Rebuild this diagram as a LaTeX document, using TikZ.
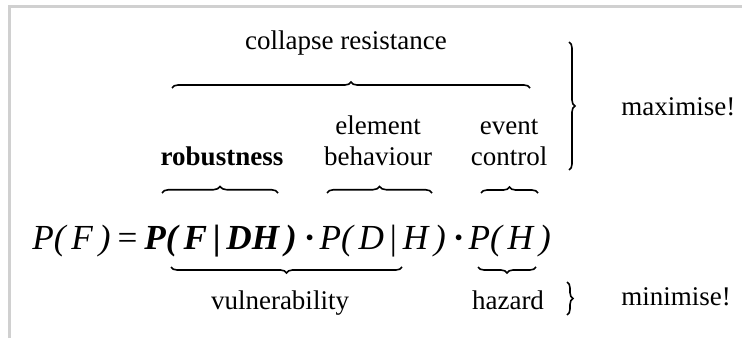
\documentclass[tikz,border=0pt]{standalone}
\usepackage{fontspec}
\setmainfont{Liberation Serif}
\usetikzlibrary{decorations.pathreplacing}
\definecolor{bordercol}{HTML}{D0D0D0}
\begin{document}
\begin{tikzpicture}[x=0.5pt,y=0.5pt,
  lbl/.style={inner sep=0pt, anchor=base, font=\fontsize{13.5}{16}\selectfont},
  formula/.style={inner sep=0pt, anchor=base west, font=\fontsize{17.6}{20}\selectfont},
  brc/.style={decorate, line width=0.8pt, decoration={brace, amplitude=#1}},
  brc/.default=3.3pt]
\useasboundingbox (0,0) rectangle (742,338);
% frame
\draw[bordercol, line width=1.5pt] (9,0) |- (742,331);
% texts
\node[lbl] (cr) at (346,288) {collapse resistance};
\node[lbl] (rob) at (222,173) {\bfseries robustness};
\node[lbl] (el1) at (378,204) {element};
\node[lbl] (el2) at (378,173) {behaviour};
\node[lbl] (ev1) at (509,204) {event};
\node[lbl] (ev2) at (509,173) {control};
\node[lbl, anchor=base west] (max) at (621,223) {maximise!};
\node[lbl] (vul) at (280,29) {vulnerability};
\node[lbl] (haz) at (508,29) {hazard};
\node[lbl, anchor=base west] (min) at (621,33) {minimise!};
% formula
\node[formula] (eq) at (32,89) {{\itshape P(\,F\,)}\kern3.5pt=\kern3.5pt{\bfseries\itshape P(\,F\,{\upshape|}\,DH\,)}\kern3.5pt{\bfseries ·}\kern2pt{\itshape P(\,D\,{\upshape|}\,H\,)}\kern3.5pt{\bfseries ·}\kern2pt{\itshape P(\,H\,)}};
% brace coordinates
\coordinate (t1) at (172,250); \coordinate (t2) at (530,250);
\coordinate (r1) at (162,145); \coordinate (r2) at (278,145);
\coordinate (e1) at (327,145); \coordinate (e2) at (432,145);
\coordinate (c1) at (481,145); \coordinate (c2) at (538,145);
\coordinate (v1) at (171,71);  \coordinate (v2) at (402,71);
\coordinate (h1) at (478,71);  \coordinate (h2) at (536,71);
\coordinate (m1) at (569,296); \coordinate (m2) at (569,168);
\coordinate (n1) at (567,56);  \coordinate (n2) at (567,23);
% braces
\draw[brc=3pt] (t1) -- (t2);
\draw[brc] (r1) -- (r2);
\draw[brc] (e1) -- (e2);
\draw[brc=3pt] (c1) -- (c2);
\draw[brc=3pt] (v2) -- (v1);
\draw[brc=3pt] (h2) -- (h1);
\draw[brc=3pt] (m1) -- (m2);
\draw[brc=3pt] (n1) -- (n2);
\end{tikzpicture}
\end{document}
